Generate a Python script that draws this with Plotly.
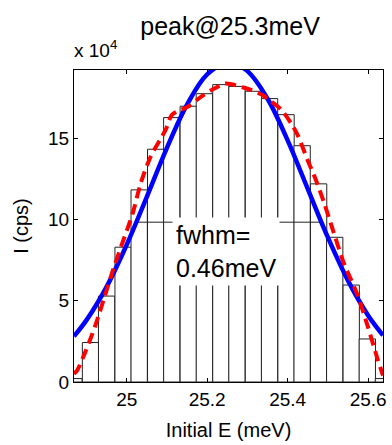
import plotly.graph_objects as go

# ---- data (intensity in units of 1e4 cps) ----
bar_centers = [24.869, 24.910, 24.950, 24.991, 25.031, 25.072, 25.112, 25.153,
               25.193, 25.234, 25.274, 25.315, 25.355, 25.396, 25.436, 25.477,
               25.517, 25.558, 25.598, 25.638]
bar_heights = [0.21, 2.43, 5.29, 8.30, 11.83, 14.33, 16.28, 16.98, 17.75, 18.31,
               18.20, 17.90, 17.45, 16.46, 14.55, 12.20, 8.91, 5.97, 2.65, 0.21]
bar_width = 0.0405

# gaussian fit (blue)
fit_x = [24.869, 24.90, 24.95, 25.00, 25.05, 25.10, 25.15, 25.20, 25.254,
         25.30, 25.35, 25.40, 25.45, 25.50, 25.55, 25.60, 25.637]
fit_y = [2.82, 3.81, 5.86, 8.45, 11.40, 14.42, 17.08, 18.94, 19.68,
         19.14, 17.44, 14.88, 11.89, 8.90, 6.24, 4.10, 2.88]

# smoothed data (red dashed)
smooth_x = [24.869, 24.877, 24.892, 24.921, 24.945, 24.966, 24.986, 25.015,
            25.035, 25.060, 25.097, 25.113, 25.154, 25.187, 25.220, 25.245,
            25.294, 25.335, 25.359, 25.384, 25.408, 25.425, 25.449, 25.470,
            25.491, 25.515, 25.540, 25.572, 25.597, 25.622, 25.637]
smooth_y = [0.50, 0.72, 1.54, 3.40, 5.25, 6.90, 8.33, 10.40,
            12.25, 13.90, 15.54, 16.46, 16.98, 17.60, 18.10, 18.38,
            18.10, 17.70, 17.28, 16.77, 15.95, 15.20, 13.70, 12.45,
            11.00, 9.16, 7.30, 5.46, 3.60, 1.54, 0.40]

peak_center = 25.254
fwhm = 0.46
half_max = 9.84

x_ticks = [25.0, 25.2, 25.4, 25.6]
x_tick_labels = ["25", "25.2", "25.4", "25.6"]
y_ticks = [0, 5, 10, 15]
y_tick_labels = ["0", "5", "10", "15"]

FONT = "Liberation Sans, Arial, Helvetica, sans-serif"

fig = go.Figure()
fig.add_trace(go.Bar(x=bar_centers, y=bar_heights, width=bar_width,
                     marker=dict(color="white", line=dict(color="#222222", width=1)),
                     showlegend=False, hoverinfo="skip"))
fig.add_trace(go.Scatter(x=[peak_center - fwhm / 2, peak_center + fwhm / 2],
                         y=[half_max, half_max], mode="lines",
                         line=dict(color="#222222", width=1), showlegend=False))
fig.add_trace(go.Scatter(x=fit_x, y=fit_y, mode="lines",
                         line=dict(color="#0000ff", width=4.5, shape="spline"),
                         showlegend=False))
fig.add_trace(go.Scatter(x=smooth_x, y=smooth_y, mode="lines",
                         line=dict(color="#ff0000", width=4, dash="11px,6px", shape="spline",
                                   smoothing=0.8),
                         showlegend=False))

fig.update_layout(
    width=392, height=445,
    margin=dict(l=74, r=6, t=70, b=63),
    paper_bgcolor="white", plot_bgcolor="white",
    font=dict(family=FONT, color="black"),
    title=dict(text="peak@25.3meV", x=0.587, xanchor="center", y=0.94, yanchor="middle",
               font=dict(size=25, family=FONT, color="black")),
    xaxis=dict(range=[24.869, 25.637], tickvals=x_ticks, ticktext=x_tick_labels,
               ticks="inside", ticklen=4, tickcolor="black", showline=True,
               linecolor="black", linewidth=1, mirror="ticks", showgrid=False,
               zeroline=False, tickfont=dict(size=19),
               title=dict(text="Initial E (meV)", font=dict(size=20), standoff=14)),
    yaxis=dict(range=[0, 19.21], tickvals=y_ticks, ticktext=y_tick_labels,
               ticks="inside", ticklen=4, tickcolor="black", showline=True,
               linecolor="black", linewidth=1, mirror="ticks", showgrid=False,
               zeroline=False, tickfont=dict(size=19),
               title=dict(text="I (cps)", font=dict(size=20), standoff=14)),
    annotations=[
        dict(text="x 10<sup>4</sup>", xref="paper", yref="paper", x=-0.005, y=1.022,
             xanchor="left", yanchor="bottom", showarrow=False,
             font=dict(size=19, family=FONT, color="black")),
        dict(text="fwhm=<br>0.46meV", xref="paper", yref="paper", x=0.317, y=0.529,
             xanchor="left", yanchor="top", align="left", showarrow=False,
             bgcolor="white", borderpad=3,
             font=dict(size=25, family=FONT, color="black")),
    ],
)

fig.write_html("out.html")
